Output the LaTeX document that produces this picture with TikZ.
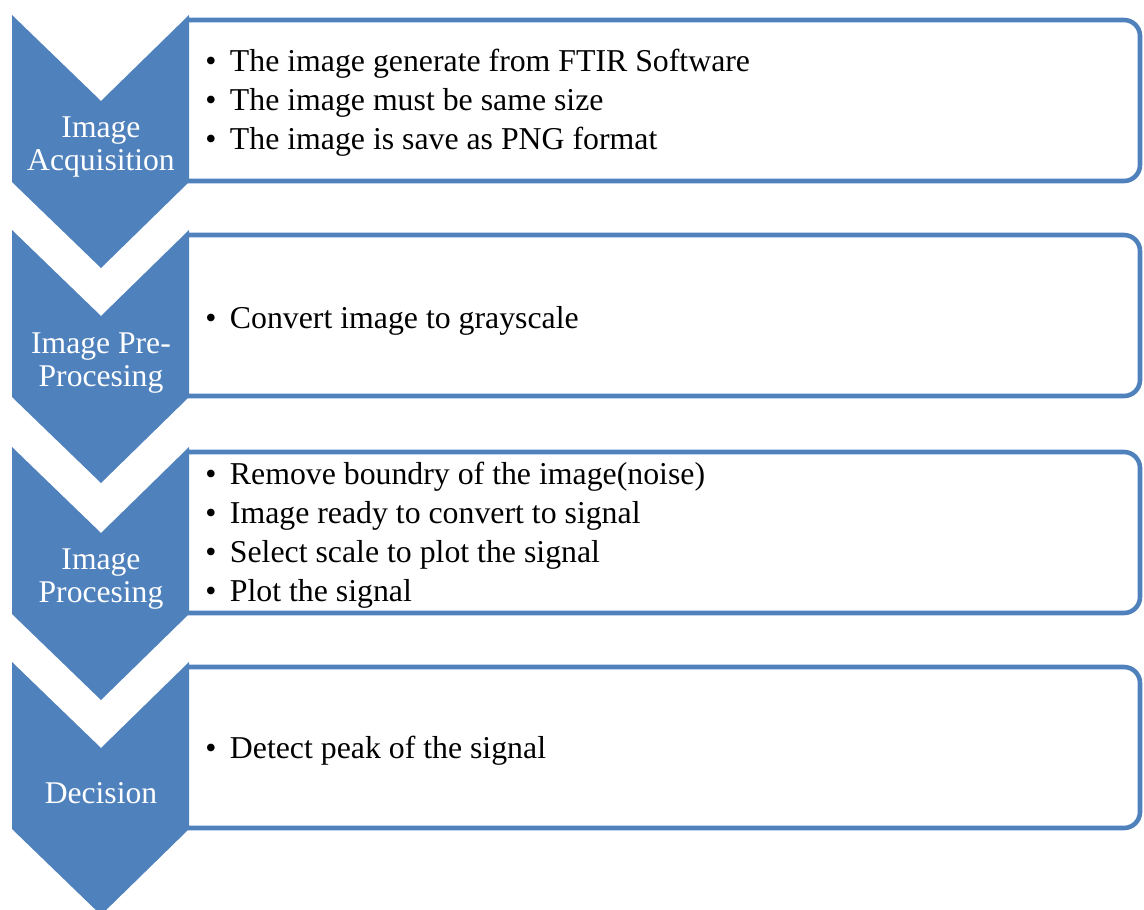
\documentclass[tikz,border=0pt]{standalone}
\usepackage{fontspec}
\setmainfont{Liberation Serif}
\usepackage{tikz}
\usetikzlibrary{positioning}
\definecolor{chevblue}{HTML}{4F81BD}

\newcommand{\pt}[1]{\makebox[14pt][l]{\textbullet}#1}

\begin{document}
\begin{tikzpicture}[x=0.02cm,y=-0.02cm,
  chev/.style={fill=chevblue},
  frm/.style={draw=chevblue,line width=2.6pt,fill=white,rounded corners=0.32cm},
  lbl/.style={text=white,align=center,inner sep=0pt,font=\fontsize{18}{18.5}\selectfont},
  pts/.style={anchor=west,align=left,inner sep=0pt,font=\fontsize{18.1}{22.2}\selectfont}]
  \useasboundingbox (0,0) rectangle (1144,910);
  % frames (left side hidden behind the chevrons)
  \draw[frm] (187,20) -- (1140,20) -- (1140,181) -- (187,181);
  \draw[frm] (187,235) -- (1140,235) -- (1140,396) -- (187,396);
  \draw[frm] (187,452) -- (1140,452) -- (1140,613) -- (187,613);
  \draw[frm] (187,667) -- (1140,667) -- (1140,828) -- (187,828);
  % chevrons
  \fill[chev] (12,15) -- (101,101) -- (189,15) -- (189,182) -- (101,268) -- (12,182) -- cycle;
  \fill[chev] (12,230) -- (101,316) -- (189,230) -- (189,397) -- (101,483) -- (12,397) -- cycle;
  \fill[chev] (12,447) -- (101,533) -- (189,447) -- (189,614) -- (101,700) -- (12,614) -- cycle;
  \fill[chev] (12,662) -- (101,748) -- (189,662) -- (189,829) -- (101,915) -- (12,829) -- cycle;
  % stage names
  \node[lbl](acq) at (101,147){Image\\Acquisition};
  \node[lbl](pre) at (101,363){Image Pre-\\Procesing};
  \node[lbl](proc) at (101,579){Image\\Procesing};
  \node[lbl](dec) at (101,793){Decision};
  % bullet points
  \node[pts](acqpts) at (205,103){\pt{The image generate from FTIR Software}\\
    \pt{The image must be same size}\\
    \pt{The image is save as PNG format}};
  \node[pts](prepts) at (205,321){\pt{Convert image to grayscale}};
  \node[pts](procpts) at (205,535){\pt{Remove boundry of the image(noise)}\\
    \pt{Image ready to convert to signal}\\
    \pt{Select scale to plot the signal}\\
    \pt{Plot the signal}};
  \node[pts](decpts) at (205,751){\pt{Detect peak of the signal}};
\end{tikzpicture}
\end{document}
